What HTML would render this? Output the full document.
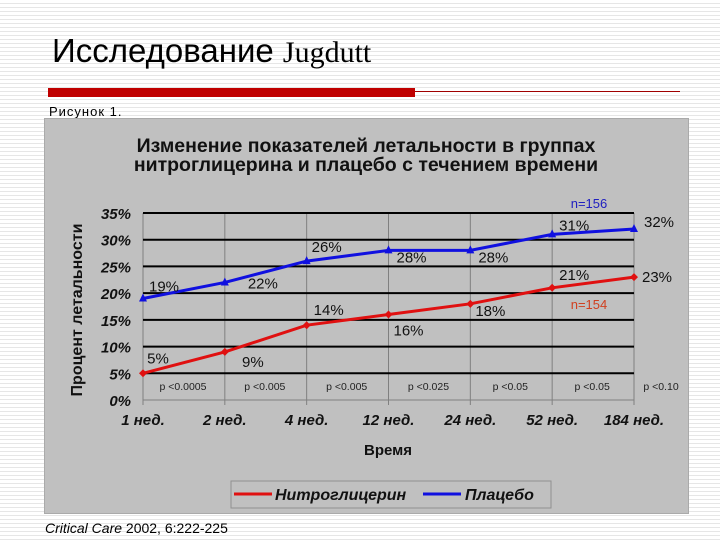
<!DOCTYPE html>
<html><head><meta charset="utf-8"><style>
body{margin:0;width:720px;height:540px;overflow:hidden;font-family:"Liberation Sans","DejaVu Sans",sans-serif;
background:repeating-linear-gradient(#fff 0 3px,#e6e6e6 3px 4px);position:relative}
.a{position:absolute;white-space:nowrap}
</style></head><body>
<div class="a" style="left:52px;top:32px;font-size:33px;color:#000">Исследование <span style="font-family:'Liberation Serif',serif;font-size:30px">Jugdutt</span></div>
<div class="a" style="left:48px;top:88px;width:367px;height:9px;background:#c00000"></div>
<div class="a" style="left:415px;top:91px;width:265px;height:1px;background:#a00000"></div>
<div class="a" style="left:49px;top:104px;font-size:13px;letter-spacing:1px">Рисунок 1.</div>
<div class="a" style="left:44px;top:118px;width:643px;height:394px;background:#c0c0c0;border:1px solid #aaa"></div>
<div class="a" style="left:45px;top:520px;font-size:14px"><i>Critical Care</i> 2002, 6:222-225</div>
<svg class="a" style="left:0;top:0" width="720" height="540">
<g id="g"></g></svg>
<script>
const categories=["1 нед.","2 нед.","4 нед.","12 нед.","24 нед.","52 нед.","184 нед."];
const nitro=[5,9,14,16,18,21,23];
const placebo=[19,22,26,28,28,31,32];
const pvals=["p <0.0005","p <0.005","p <0.005","p <0.025","p <0.05","p <0.05","p <0.10"];
const yTicks=[0,5,10,15,20,25,30,35];
const X0=143,X1=634,Y0=400,Y1=213;
const x=i=>X0+(X1-X0)*i/(categories.length-1);
const y=v=>Y0-(Y0-Y1)*v/35;
const g=document.getElementById('g');const NS='http://www.w3.org/2000/svg';
function mk(t,a,txt){const e=document.createElementNS(NS,t);for(const k in a)e.setAttribute(k,a[k]);if(txt!=null)e.textContent=txt;g.appendChild(e);return e;}
let e;
e=mk('text',{x:366,y:152,'text-anchor':'middle','font-size':19.5,'font-weight':'bold',fill:'#111'},'Изменение показателей летальности в группах');

e=mk('text',{x:366,y:171,'text-anchor':'middle','font-size':19.5,'font-weight':'bold',fill:'#111'},'нитроглицерина и плацебо с течением времени');

categories.forEach((c,i)=>{
 e=mk('line',{x1:x(i),x2:x(i),y1:Y1,y2:Y0+5,stroke:'#808080','stroke-width':1});
 
 e=mk('text',{x:x(i),y:Y0+25,'text-anchor':'middle','font-size':15,'font-weight':'bold','font-style':'italic',fill:'#111'},c);
 
 e=mk('text',{x:x(i)+(i==6?27:40),y:Y0-10,'text-anchor':'middle','font-size':10.5,fill:'#222'},pvals[i]);
 
});
yTicks.forEach(v=>{
 if(v>0){e=mk('line',{x1:X0,x2:X1,y1:y(v),y2:y(v),stroke:'#000','stroke-width':2});
 }
 e=mk('text',{x:X0-12,y:y(v)+6,'text-anchor':'end','font-size':15,'font-weight':'bold','font-style':'italic',fill:'#111'},v+'%');
 
});
e=mk('line',{x1:X0,x2:X1,y1:Y0,y2:Y0,stroke:'#808080','stroke-width':1});

e=mk('text',{x:82,y:310,'text-anchor':'middle','font-size':16,'font-weight':'bold',fill:'#111',transform:'rotate(-90 82 310)'},'Процент летальности');

e=mk('text',{x:388,y:455,'text-anchor':'middle','font-size':15,'font-weight':'bold',fill:'#111'},'Время');

function series(d,col,name,lab){
 e=mk('polyline',{points:d.map((v,i)=>x(i)+','+y(v)).join(' '),fill:'none',stroke:col,'stroke-width':3});
 
 d.forEach((v,i)=>{
  e=name=='nitro'?mk('polygon',{points:`${x(i)},${y(v)-4} ${x(i)+4},${y(v)} ${x(i)},${y(v)+4} ${x(i)-4},${y(v)}`,fill:col})
   :mk('polygon',{points:`${x(i)},${y(v)-5} ${x(i)+4},${y(v)+3} ${x(i)-4},${y(v)+3}`,fill:col});
  
  const o=lab[i];
  e=mk('text',{x:x(i)+o[0],y:y(v)+o[1],'text-anchor':'middle','font-size':15,fill:'#111'},v+'%');
  
 });
}
series(placebo,'#1010e0','placebo',[[21,-7],[38,6],[20,-9],[23,12],[23,12],[22,-4],[25,-2]]);
series(nitro,'#e01010','nitro',[[15,-10],[28,15],[22,-10],[20,21],[20,12],[22,-8],[23,5]]);
e=mk('text',{x:589,y:208,'text-anchor':'middle','font-size':13,fill:'#2020c0'},'n=156');

e=mk('text',{x:589,y:309,'text-anchor':'middle','font-size':13,fill:'#d04020'},'n=154');

e=mk('rect',{x:231,y:481,width:320,height:27,fill:'#c0c0c0',stroke:'#909090'});

e=mk('line',{x1:234,x2:272,y1:494,y2:494,stroke:'#e01010','stroke-width':3});

e=mk('text',{x:275,y:500,'font-size':16,'font-weight':'bold','font-style':'italic',fill:'#111'},'Нитроглицерин');

e=mk('line',{x1:423,x2:461,y1:494,y2:494,stroke:'#1010e0','stroke-width':3});

e=mk('text',{x:465,y:500,'font-size':16,'font-weight':'bold','font-style':'italic',fill:'#111'},'Плацебо');

</script>
</body></html>
